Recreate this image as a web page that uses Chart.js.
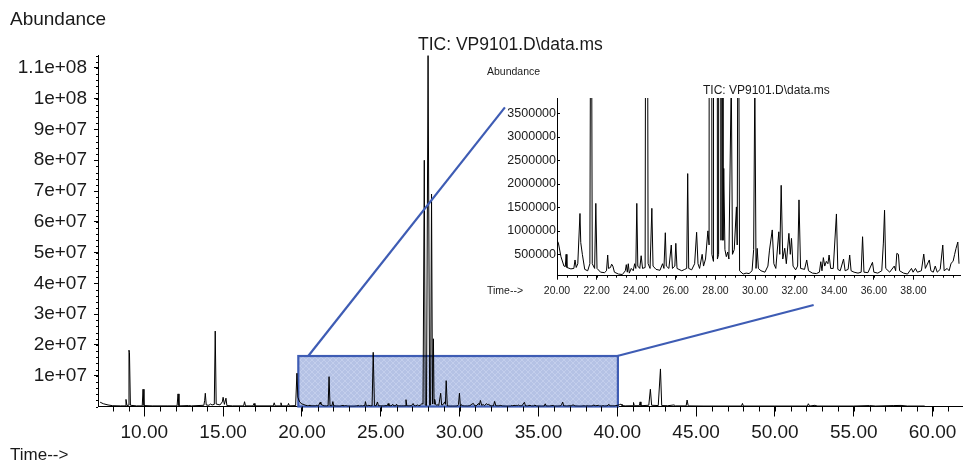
<!DOCTYPE html>
<html>
<head>
<meta charset="utf-8">
<script src="https://cdn.jsdelivr.net/npm/chart.js@4.4.1/dist/chart.umd.min.js"></script>
<style>
  html, body { margin: 0; padding: 0; background: #fff; }
  #wrap { position: relative; width: 963px; height: 463px; overflow: hidden; }
  #main { position: absolute; left: 0; top: 0; }
  #inset { position: absolute; left: 470px; top: 60px; }
</style>
</head>
<body>
<div id="wrap">
  <canvas id="main" width="963" height="463"></canvas>
  <canvas id="inset" width="493" height="245"></canvas>
</div>
<script>
'use strict';

// retention time (min) and TIC abundance
var rtMinutes = [
  7.06, 7.2, 7.4, 7.7, 8.0, 8.5, 8.78, 8.84, 8.9, 8.98, 9.03, 9.06, 9.12, 9.5, 9.87, 9.92, 9.98,
  10.5, 11.5, 12.08, 12.14, 12.2, 12.8, 13.0, 13.78, 13.83, 13.87, 13.93, 14.1, 14.2, 14.3, 14.44,
  14.5, 14.56, 14.8, 14.95, 15.0, 15.08, 15.18, 15.24, 15.6, 16.3, 16.36, 16.42, 16.9, 16.96, 17.02,
  18.18, 18.24, 18.3, 18.62, 18.67, 18.72, 19.1, 19.15, 19.2, 19.6, 19.68, 19.74, 19.85,
  // zoomed window
  20.0, 20.07, 20.2, 20.35, 20.42, 20.46, 20.5, 20.7, 20.85, 20.91, 20.97, 21.05, 21.16, 21.2, 21.28,
  21.4, 21.55, 21.66, 21.72, 21.78, 21.9, 21.96, 22.02, 22.2, 22.4, 22.5, 22.56, 22.6, 22.7, 22.76,
  22.82, 22.9, 23.1, 23.3, 23.45, 23.5, 23.55, 23.6, 23.65, 23.75, 23.85, 23.92, 23.98, 24.03, 24.08,
  24.18, 24.25, 24.32, 24.45, 24.52, 24.6, 24.7, 24.79, 24.85, 25.0, 25.2, 25.33, 25.4, 25.47, 25.52,
  25.65, 25.77, 25.83, 25.95, 26.0, 26.06, 26.3, 26.45, 26.55, 26.6, 26.65, 26.8, 26.95, 27.05, 27.12,
  27.2, 27.33, 27.4, 27.5, 27.62, 27.68, 27.76, 27.82, 27.9, 28.0, 28.1, 28.16, 28.22, 28.28, 28.34,
  28.38, 28.42, 28.48, 28.55, 28.62, 28.68, 28.8, 28.86, 28.95, 29.06, 29.1, 29.15, 29.22, 29.4, 29.55,
  29.7, 29.85, 29.93, 29.99, 30.05, 30.11, 30.17, 30.3, 30.5, 30.65, 30.73, 30.87, 30.95, 31.05, 31.2,
  31.25, 31.32, 31.4, 31.5, 31.58, 31.71, 31.78, 31.84, 31.92, 32.05, 32.15, 32.22, 32.3, 32.5, 32.61,
  32.7, 32.9, 33.1, 33.25, 33.32, 33.38, 33.45, 33.52, 33.6, 33.68, 33.74, 33.82, 33.95, 34.11, 34.18,
  34.3, 34.47, 34.55, 34.7, 34.78, 34.85, 35.0, 35.2, 35.36, 35.43, 35.5, 35.7, 35.93, 36.0, 36.2,
  36.4, 36.48, 36.54, 36.6, 36.8, 37.03, 37.1, 37.16, 37.24, 37.3, 37.5, 37.7, 37.9, 37.98, 38.1,
  38.2, 38.4, 38.52, 38.6, 38.8, 38.88, 39.0, 39.1, 39.2, 39.35, 39.48, 39.55, 39.7, 39.8, 39.9,
  40.0, 40.08, 40.15, 40.24, 40.3,
  // late eluters
  40.5, 41.0, 41.03, 41.08, 41.4, 41.45, 41.5, 42.0, 42.1, 42.18, 42.6, 42.74, 42.82, 43.2, 43.6,
  43.7, 44.37, 44.43, 44.5, 45.5, 47.88, 47.94, 48.0, 50.0, 52.06, 52.12, 52.2, 52.55, 52.6, 55.0,
  56.0, 56.4, 57.5, 58.0, 58.4, 59.5, 62.0
];
var ticCounts = [
  1.8e6, 1.4e6, 9e5, 5e5, 2.5e5, 2e5, 2e5, 2.3e6, 3e5, 4e5, 1.83e7, 1.75e7, 4e5, 2e5, 2e5, 5.6e6, 3e5,
  2e5, 2e5, 2e5, 4.1e6, 2e5, 3e5, 2e5, 4e5, 2e6, 4.3e6, 5e5, 4e5, 8e5, 5e5, 7e5,
  2.45e7, 8e5, 5e5, 1.5e6, 3e6, 7e5, 2.7e6, 3e5, 2e5, 2e5, 1.56e6, 2e5, 2e5, 1e6, 2e5,
  2e5, 1.2e6, 2e5, 2e5, 1.2e6, 2e5, 2e5, 1e6, 2e5, 3e5, 1.08e7, 3e6, 1.5e6,
  // zoomed window
  8e5, 7.4e5, 4.5e5, 2.5e5, 2.4e5, 5e5, 2.2e5, 1.9e5, 2e5, 3.8e5, 2.2e5, 3e5, 1.37e6, 7.5e5, 5e5,
  1.8e5, 1.5e5, 3e5, 9.7e6, 3e5, 2e5, 1.585e6, 2e5, 1.2e5, 1.1e5, 1.5e5, 4.85e5, 2e5, 2.2e5, 2.9e5,
  2.5e5, 1.2e5, 8e4, 7e4, 1.5e5, 2.8e5, 1.2e5, 3e5, 1e5, 2e5, 1.5e5, 3e5, 2e5, 1.585e6, 2.5e5,
  2e5, 4.7e5, 2e5, 2.2e5, 1.76e7, 3e5, 2e5, 1.48e6, 2.5e5, 1.8e5, 1.6e5, 3e5, 2e5, 9.6e5, 2.5e5,
  2e5, 6.98e5, 2e5, 2.5e5, 7.34e5, 2e5, 1.5e5, 1.8e5, 2e5, 2.22e6, 2e5, 1.7e5, 3e5, 9.7e5, 3e5,
  2e5, 5e5, 2.5e5, 4e5, 1e6, 7e5, 8e7, 5e5, 3.5e5, 1.14e8, 4e5, 5e5, 6.9e7, 8e5, 2.2e7,
  8e5, 2.33e6, 6e5, 4.5e5, 5.5e5, 4e5, 4.3e6, 5e5, 6e5, 1.51e6, 7e5, 8.4e6, 1.5e5, 8e4, 1e5,
  9e4, 1.5e5, 6e5, 4.3e6, 2e5, 6.27e5, 2e5, 1.5e5, 1.2e5, 2.5e5, 5.9e5, 1.02e6, 3e5, 2e5, 9.8e5,
  5e5, 1.97e6, 4e5, 6.3e5, 3e5, 9.47e5, 5e5, 8.4e5, 2.5e5, 1.7e5, 2.5e5, 1.66e6, 2e5, 1.8e5, 3.8e5,
  1.5e5, 1e5, 9e4, 1.2e5, 3.43e5, 1.5e5, 4.3e5, 2.5e5, 3.5e5, 3e5, 4.85e5, 2e5, 2e5, 1.36e6, 1.8e5,
  1.5e5, 4e5, 1.5e5, 1.8e5, 4.85e5, 1.5e5, 1.2e5, 1e5, 1.2e5, 8.75e5, 1.2e5, 1.1e5, 3.3e5, 1.2e5, 1e5,
  1.5e5, 7.4e5, 1.44e6, 2e5, 1.2e5, 2.5e5, 1.5e5, 5.2e5, 5e5, 1.5e5, 1e5, 8e4, 2e5, 1.2e5, 2e5,
  1.2e5, 1.5e5, 5.06e5, 2e5, 3.8e5, 1.5e5, 1.2e5, 2.5e5, 1.2e5, 1.8e5, 6.98e5, 1.5e5, 2e5, 1.5e5, 3.1e5,
  3.5e5, 5e5, 6.27e5, 7.62e5, 3e5,
  // late eluters
  2e5, 2.5e5, 1.3e6, 2.5e5, 2.5e5, 1.5e6, 2.5e5, 4e5, 5.6e6, 4e5, 3e5, 1.22e7, 3e5, 2.5e5, 5e5,
  2e5, 2e5, 2.1e6, 2e5, 1.5e5, 1.5e5, 1e6, 1.5e5, 1.5e5, 1.5e5, 9e5, 1.5e5, 4e5, 1.5e5, 1.5e5,
  3e5, 1.5e5, 3e5, 3.5e5, 1.5e5, 1.5e5, 1.5e5
];

// axis ticks
var mainTimeTicks = [10, 15, 20, 25, 30, 35, 40, 45, 50, 55, 60];
var mainAbundanceTicks = [1e7, 2e7, 3e7, 4e7, 5e7, 6e7, 7e7, 8e7, 9e7, 1e8, 1.1e8];
var insetTimeTicks = [20, 22, 24, 26, 28, 30, 32, 34, 36, 38];
var insetAbundanceTicks = [500000, 1000000, 1500000, 2000000, 2500000, 3000000, 3500000];

var mainTimeRange = [7.064, 61.93];
var mainAbundanceMax = 1.142e8;
var insetTimeRange = [20, 40.35];
var insetAbundanceRange = [45000, 3.83e6];

// highlighted window on the main trace: [t0, t1] and top abundance
var zoomWindow = [19.77, 40.04];
var zoomWindowTop = 1.64e7;
// connector lines: start on the main chart, end in the inset's own units
var linkFromMain = [[20.4, 1.64e7], [40.0, 1.64e7]];
var linkToInset = [[17.37, 3.63e6], [32.96, -5.8e5]];

var traceTitle = 'TIC: VP9101.D\\data.ms';
var FONT = "'Liberation Sans', Arial, sans-serif";

function tracePoints(lo, hi) {
  var pts = [];
  for (var i = 0; i < rtMinutes.length; i++) {
    if (rtMinutes[i] >= lo && rtMinutes[i] <= hi) pts.push({x: rtMinutes[i], y: ticCounts[i]});
  }
  return pts;
}

function fixedTicks(values) {
  return function(scale) {
    scale.ticks = values.map(function(v) { return {value: v}; });
  };
}

function sciLabel(v) {
  var s = Number(v.toPrecision(3)).toExponential();
  return s.replace(/e\+(\d)$/, 'e+0$1');
}

// ruler-like minor ticks that chart.js cannot draw with a second length
var rulerTicks = {
  id: 'rulerTicks',
  afterDraw: function(chart, args, opts) {
    var ctx = chart.ctx;
    ctx.save();
    ctx.strokeStyle = '#000';
    ctx.lineWidth = 1;
    (opts.marks || []).forEach(function(m) {
      var scale = chart.scales[m.axis];
      var first = Math.ceil(scale.min / m.step - 1e-9);
      for (var k = first; k * m.step <= scale.max + 1e-9; k++) {
        var p = Math.round(scale.getPixelForValue(k * m.step)) + 0.5;
        ctx.beginPath();
        if (m.axis === 'x') {
          ctx.moveTo(p, scale.top);
          ctx.lineTo(p, scale.top + m.len);
        } else {
          ctx.moveTo(scale.right, p);
          ctx.lineTo(scale.right + m.len, p);
        }
        ctx.stroke();
      }
    });
    ctx.restore();
  }
};

var freeText = {
  id: 'freeText',
  afterDraw: function(chart, args, opts) {
    var ctx = chart.ctx;
    ctx.save();
    ctx.fillStyle = '#1a1a1a';
    ctx.textBaseline = 'middle';
    (opts.items || []).forEach(function(t) {
      ctx.font = t.size + 'px ' + FONT;
      ctx.textAlign = t.align || 'left';
      ctx.fillText(t.text, t.x, t.y);
    });
    ctx.restore();
  }
};

function hatchPattern(ctx) {
  var c = document.createElement('canvas');
  c.width = 6; c.height = 6;
  var g = c.getContext('2d');
  g.fillStyle = 'rgb(181,194,229)';
  g.fillRect(0, 0, 6, 6);
  g.strokeStyle = 'rgba(205,214,240,0.6)';
  g.lineWidth = 1;
  g.beginPath();
  g.moveTo(0, 0); g.lineTo(6, 6);
  g.moveTo(6, 0); g.lineTo(0, 6);
  g.stroke();
  return ctx.createPattern(c, 'repeat');
}

var insetChart;

var zoomBox = {
  id: 'zoomBox',
  beforeDatasetsDraw: function(chart) {
    var ctx = chart.ctx, xs = chart.scales.x, ys = chart.scales.y;
    var x0 = xs.getPixelForValue(zoomWindow[0]);
    var x1 = xs.getPixelForValue(zoomWindow[1]);
    var y0 = ys.getPixelForValue(zoomWindowTop);
    var y1 = ys.getPixelForValue(0);
    ctx.save();
    ctx.fillStyle = hatchPattern(ctx);
    ctx.fillRect(x0, y0, x1 - x0, y1 - y0);
    ctx.strokeStyle = 'rgb(62,92,180)';
    ctx.lineWidth = 2.2;
    ctx.strokeRect(x0, y0, x1 - x0, y1 - y0);
    ctx.restore();
  },
  afterDraw: function(chart) {
    if (!insetChart) return;
    var ctx = chart.ctx, xs = chart.scales.x, ys = chart.scales.y;
    var cv = insetChart.canvas;
    ctx.save();
    ctx.strokeStyle = 'rgb(62,92,180)';
    ctx.lineWidth = 2.2;
    for (var i = 0; i < linkFromMain.length; i++) {
      ctx.beginPath();
      ctx.moveTo(xs.getPixelForValue(linkFromMain[i][0]), ys.getPixelForValue(linkFromMain[i][1]));
      ctx.lineTo(cv.offsetLeft + insetChart.scales.x.getPixelForValue(linkToInset[i][0]),
                 cv.offsetTop + insetChart.scales.y.getPixelForValue(linkToInset[i][1]));
      ctx.stroke();
    }
    ctx.restore();
  }
};

// inset first, so the main chart can reach its scales for the connectors
insetChart = new Chart(document.getElementById('inset'), {
  type: 'line',
  data: {
    datasets: [{
      data: tracePoints(insetTimeRange[0], insetTimeRange[1]),
      borderColor: '#000',
      borderWidth: 1,
      pointRadius: 0,
      tension: 0
    }]
  },
  options: {
    responsive: false,
    animation: false,
    layout: {padding: {top: 38, right: 3, left: 0, bottom: 0}},
    plugins: {
      legend: {display: false},
      tooltip: {enabled: false},
      rulerTicks: {marks: [
        {axis: 'x', step: 0.5, len: 2},
        {axis: 'y', step: 500000, len: 3}
      ]},
      freeText: {items: [
        {text: 'Abundance', x: 17, y: 12, size: 10.5},
        {text: traceTitle, x: 233, y: 31, size: 12},
        {text: 'Time-->', x: 17, y: 231, size: 10.5}
      ]}
    },
    scales: {
      x: {
        type: 'linear',
        min: insetTimeRange[0], max: insetTimeRange[1],
        afterBuildTicks: fixedTicks(insetTimeTicks),
        border: {display: true, color: '#000', width: 1},
        grid: {drawOnChartArea: false, tickLength: 4, tickColor: '#000'},
        ticks: {
          padding: 5, maxRotation: 0, autoSkip: false,
          color: '#1a1a1a', font: {family: FONT, size: 10.5},
          callback: function(v) { return Number(v).toFixed(2); }
        },
        afterFit: function(s) { s.height = 29.3; }
      },
      y: {
        min: insetAbundanceRange[0], max: insetAbundanceRange[1],
        afterBuildTicks: fixedTicks(insetAbundanceTicks),
        border: {display: true, color: '#000', width: 1},
        grid: {drawOnChartArea: false, drawTicks: false},
        ticks: {
          padding: 1, autoSkip: false,
          color: '#1a1a1a', font: {family: FONT, size: 12.5},
          callback: function(v) { return String(v); }
        },
        afterFit: function(s) { s.width = 87; }
      }
    }
  },
  plugins: [rulerTicks, freeText]
});

new Chart(document.getElementById('main'), {
  type: 'line',
  data: {
    datasets: [{
      data: tracePoints(mainTimeRange[0], mainTimeRange[1]),
      borderColor: '#000',
      borderWidth: 1,
      pointRadius: 0,
      tension: 0
    }]
  },
  options: {
    responsive: false,
    animation: false,
    layout: {padding: {top: 55, right: 0, left: 0, bottom: 0}},
    plugins: {
      legend: {display: false},
      tooltip: {enabled: false},
      rulerTicks: {marks: [
        {axis: 'x', step: 1, len: 5},
        {axis: 'y', step: 2e6, len: -2}
      ]},
      freeText: {items: [
        {text: 'Abundance', x: 10, y: 20, size: 19},
        {text: traceTitle, x: 418, y: 45, size: 17.5},
        {text: 'Time-->', x: 10, y: 455, size: 17}
      ]}
    },
    scales: {
      x: {
        type: 'linear',
        min: mainTimeRange[0], max: mainTimeRange[1],
        afterBuildTicks: fixedTicks(mainTimeTicks),
        border: {display: true, color: '#000', width: 1},
        grid: {drawOnChartArea: false, tickLength: 10, tickColor: '#000'},
        ticks: {
          padding: 5, maxRotation: 0, autoSkip: false,
          color: '#1a1a1a', font: {family: FONT, size: 19},
          callback: function(v) { return Number(v).toFixed(2); }
        },
        afterFit: function(s) { s.height = 56.5; }
      },
      y: {
        min: 0, max: mainAbundanceMax,
        afterBuildTicks: fixedTicks(mainAbundanceTicks),
        border: {display: true, color: '#000', width: 1},
        grid: {drawOnChartArea: false, tickLength: 4, tickColor: '#000'},
        ticks: {
          padding: 7, autoSkip: false,
          color: '#1a1a1a', font: {family: FONT, size: 19},
          callback: function(v) { return sciLabel(v); }
        },
        afterFit: function(s) { s.width = 98; }
      }
    }
  },
  plugins: [zoomBox, rulerTicks, freeText]
});
</script>
</body>
</html>
